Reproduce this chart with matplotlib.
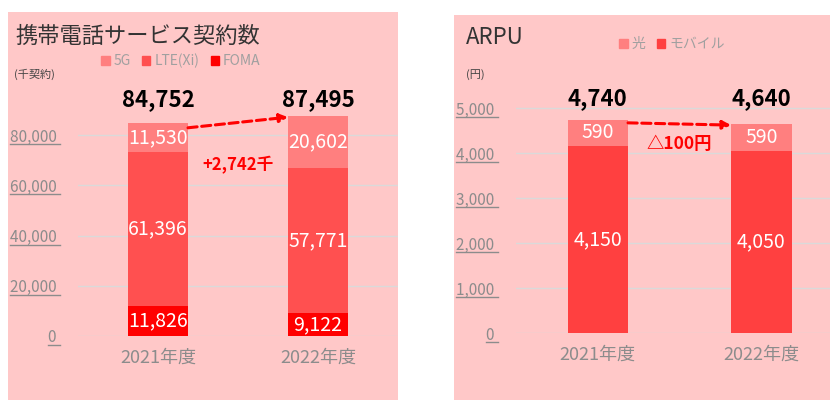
import matplotlib
matplotlib.use("Agg")
import matplotlib.pyplot as plt
from matplotlib.patches import Rectangle, Patch

plt.rcParams['font.family'] = ['Noto Sans CJK JP', 'DejaVu Sans']

# data
years = ["2021年度", "2022年度"]
sub_names = ["5G", "LTE(Xi)", "FOMA"]
foma = [11826, 9122]
lte = [61396, 57771]
g5 = [11530, 20602]
sub_totals = [84752, 87495]
sub_diff = "+2,742千"
sub_ticks = [0, 20000, 40000, 60000, 80000]

arpu_names = ["光", "モバイル"]
mobile = [4150, 4050]
hikari = [590, 590]
arpu_totals = [4740, 4640]
arpu_diff = "△100円"
arpu_ticks = [0, 1000, 2000, 3000, 4000, 5000]

bg = "#FFC8C8"
grey = "#8C8C8C"
c_5g, c_lte, c_foma = "#FF7F7F", "#FF5050", "#FF0000"
c_hikari, c_mobile = "#FF7F7F", "#FF4040"

W, H = 830, 400
fig = plt.figure(figsize=(8.3, 4.0), dpi=100)
fig.patch.set_facecolor("white")


def px(x0, y0, x1, y1):
    # pixel box (from top-left) -> figure fraction rect
    return [x0 / W, 1 - y1 / H, (x1 - x0) / W, (y1 - y0) / H]


fig.patches.append(Rectangle((8 / W, 0), 390 / W, 388 / H, transform=fig.transFigure,
                             facecolor=bg, edgecolor="none", zorder=-5))
fig.patches.append(Rectangle((454 / W, 0), 376 / W, 385 / H, transform=fig.transFigure,
                             facecolor=bg, edgecolor="none", zorder=-5))


def style_axes(ax, ticks, fmt):
    ax.set_facecolor("none")
    for s in ax.spines.values():
        s.set_visible(False)
    ax.set_yticks(ticks)
    ax.set_yticklabels([fmt(t) + " " for t in ticks], color=grey, fontsize=11)
    ax.tick_params(axis="y", length=0, pad=13)
    ax.tick_params(axis="x", length=0, pad=9, labelsize=13, labelcolor=grey)
    ax.grid(axis="y", color="#DADADA", linewidth=1)
    ax.set_axisbelow(True)
    # underline the tick labels
    fig.canvas.draw()
    r = fig.canvas.get_renderer()
    for lab in ax.get_yticklabels():
        bb = lab.get_window_extent(r)
        yl = (bb.y0 + 1.5) / H
        fig.add_artist(plt.Line2D([bb.x0 / W, bb.x1 / W], [yl, yl],
                                  transform=fig.transFigure, color=grey, linewidth=1))


# left chart
ax1 = fig.add_axes(px(78, 85, 398, 336))
x = [0, 1]
bw = 0.375
ax1.bar(x, foma, bw, color=c_foma)
ax1.bar(x, lte, bw, bottom=foma, color=c_lte)
b2 = [f + l for f, l in zip(foma, lte)]
ax1.bar(x, g5, bw, bottom=b2, color=c_5g)
ax1.set_xlim(-0.5, 1.5)
ax1.set_ylim(0, 100000)
ax1.set_xticks(x)
ax1.set_xticklabels(years)
style_axes(ax1, sub_ticks, lambda v: f"{v:,}")
for i in x:
    ax1.text(i, foma[i] / 2, f"{foma[i]:,}", ha="center", va="center", color="white", fontsize=14)
    ax1.text(i, foma[i] + lte[i] / 2, f"{lte[i]:,}", ha="center", va="center", color="white", fontsize=14)
    ax1.text(i, b2[i] + g5[i] / 2, f"{g5[i]:,}", ha="center", va="center", color="white", fontsize=14)
    ax1.text(i, 94000, f"{sub_totals[i]:,}", ha="center", va="center", color="black",
             fontsize=16, fontweight="bold")
ax1.annotate("", xy=(1 - bw / 2, sub_totals[1] - 300), xytext=(bw / 2, sub_totals[0] - 1800),
             arrowprops=dict(arrowstyle="-|>", color="red", linestyle=(0, (3, 1.5)), lw=2.2,
                             mutation_scale=12, shrinkA=0, shrinkB=0))
ax1.text(0.5, 68000, sub_diff, ha="center", va="center", color="red", fontsize=12, fontweight="bold")
h1 = [Patch(color=c_5g), Patch(color=c_lte), Patch(color=c_foma)]
ax1.legend(h1, sub_names, ncol=3, frameon=False, loc="center", bbox_to_anchor=(181 / W, 1 - 61 / H),
           bbox_transform=fig.transFigure, fontsize=10, labelcolor="#A0A0A0", handlelength=0.6,
           handleheight=0.6, handletextpad=0.3, columnspacing=0.8)

fig.text(15 / W, 1 - 36 / H, "携帯電話サービス契約数", fontsize=16, color="#333333", va="center")
fig.text(14 / W, 1 - 74 / H, "(千契約)", fontsize=8, color="#444444", va="center")

# right chart
ax2 = fig.add_axes(px(516, 85.5, 830, 333))
bw2 = 0.37
ax2.bar(x, mobile, bw2, color=c_mobile)
ax2.bar(x, hikari, bw2, bottom=mobile, color=c_hikari)
ax2.set_xlim(-0.5, 1.42)
ax2.set_ylim(0, 5500)
ax2.set_xticks(x)
ax2.set_xticklabels(years)
style_axes(ax2, arpu_ticks, lambda v: f"{v:,}")
for i in x:
    ax2.text(i, mobile[i] / 2, f"{mobile[i]:,}", ha="center", va="center", color="white", fontsize=14)
    ax2.text(i, mobile[i] + hikari[i] / 2, f"{hikari[i]:,}", ha="center", va="center",
             color="white", fontsize=14)
    ax2.text(i, 5220, f"{arpu_totals[i]:,}", ha="center", va="center", color="black",
             fontsize=16, fontweight="bold")
ax2.annotate("", xy=(1 - bw2 / 2, arpu_totals[1] - 20), xytext=(bw2 / 2, arpu_totals[0] - 70),
             arrowprops=dict(arrowstyle="-|>", color="red", linestyle=(0, (3, 1.5)), lw=2.2,
                             mutation_scale=12, shrinkA=0, shrinkB=0))
ax2.text(0.5, 4200, arpu_diff, ha="center", va="center", color="red", fontsize=12.5, fontweight="bold")
h2 = [Patch(color=c_hikari), Patch(color=c_mobile)]
ax2.legend(h2, arpu_names, ncol=2, frameon=False, loc="center", bbox_to_anchor=(672 / W, 1 - 44 / H),
           bbox_transform=fig.transFigure, fontsize=10, labelcolor="#A0A0A0", handlelength=0.6,
           handleheight=0.6, handletextpad=0.3, columnspacing=0.8)

fig.text(466 / W, 1 - 38 / H, "ARPU", fontsize=16, color="#333333", va="center")
fig.text(466 / W, 1 - 75 / H, "(円)", fontsize=8, color="#444444", va="center")

fig.savefig("out.png", dpi=100, facecolor="white")
